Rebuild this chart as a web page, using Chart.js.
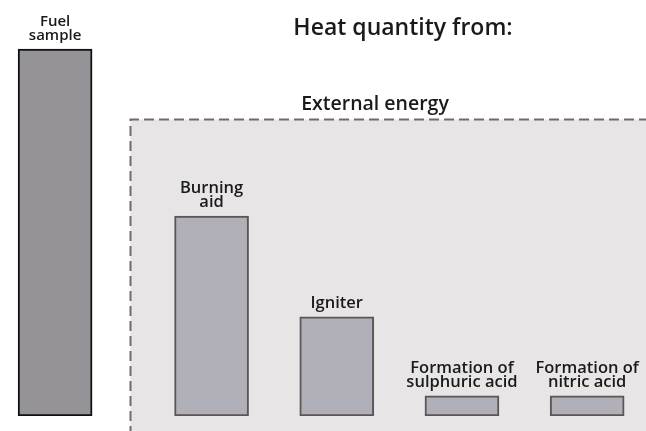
<!DOCTYPE html>
<html>
<head>
<meta charset="utf-8">
<script src="https://cdn.jsdelivr.net/npm/chart.js@4"></script>
<style>
  html, body { margin: 0; padding: 0; background: #fff; }
  #wrap { width: 646px; height: 431px; }
</style>
</head>
<body>
<div id="wrap"><canvas id="heatChart"></canvas></div>
<script>
// heat contributions (relative units)
const categories = [
  ['Fuel', 'sample'],
  ['Burning', 'aid'],
  ['Igniter'],
  ['Formation of', 'sulphuric acid'],
  ['Formation of', 'nitric acid']
];
const heatValues = [100, 54.5, 27, 5.5, 5.5];
const titleText = 'Heat quantity from:';
const groupText = 'External energy';

const FONT = '"Open Sans", "Noto Sans", sans-serif';
const firstGap = 0.25; // extra space between the fuel sample and the rest

// slot index on the x axis for each bar
const slots = categories.map((c, i) => i === 0 ? 0 : i + firstGap);

const fills = heatValues.map((v, i) => i === 0 ? '#959398' : '#b1b0b8');
const borders = heatValues.map((v, i) => i === 0 ? '#111111' : '#5e5455');

// grey dashed box behind the external energy bars + text
const boxPlugin = {
  id: 'boxPlugin',
  beforeDatasetsDraw(chart) {
    const ctx = chart.ctx;
    const x = chart.scales.x;
    const left = Math.round(x.getPixelForValue(0.6)) + 0.5;
    const top = 119.5;
    ctx.save();
    ctx.fillStyle = '#e7e5e6';
    ctx.fillRect(left, top, chart.width - left + 10, chart.height - top + 10);
    ctx.setLineDash([10, 5]);
    ctx.lineWidth = 2;
    ctx.strokeStyle = '#76696b';
    ctx.beginPath();
    ctx.moveTo(left, chart.height + 5);
    ctx.lineTo(left, top);
    ctx.lineTo(chart.width + 5, top);
    ctx.stroke();
    ctx.restore();
  },
  afterDatasetsDraw(chart) {
    const ctx = chart.ctx;
    const meta = chart.getDatasetMeta(0);
    ctx.save();
    ctx.fillStyle = '#1a1a1a';
    ctx.textAlign = 'center';
    ctx.textBaseline = 'alphabetic';
    // bar labels
    meta.data.forEach((bar, i) => {
      const lines = categories[i];
      ctx.font = (i === 0 ? '600 15px ' : '600 16.5px ') + FONT;
      lines.forEach((line, k) => {
        const y = bar.y - 9 - (lines.length - 1 - k) * 14;
        ctx.fillText(line, bar.x, y);
      });
    });
    // headings
    ctx.font = '600 23px ' + FONT;
    ctx.fillText(titleText, 403, 35);
    ctx.font = '600 19.5px ' + FONT;
    ctx.fillText(groupText, 375, 110);
    ctx.restore();
  }
};

new Chart(document.getElementById('heatChart'), {
  type: 'bar',
  data: {
    datasets: [{
      data: heatValues.map((v, i) => ({ x: slots[i], y: v })),
      backgroundColor: fills,
      borderColor: borders,
      borderWidth: 2,
      borderSkipped: false,
      barThickness: 74
    }]
  },
  options: {
    responsive: true,
    maintainAspectRatio: false,
    animation: false,
    layout: { padding: { top: 0, bottom: 15, left: 0, right: 0 } },
    plugins: { legend: { display: false }, tooltip: { enabled: false } },
    scales: {
      x: { type: 'linear', min: -0.44, max: 4.72, offset: false, display: false },
      y: { min: 0, max: 113.4, display: false }
    }
  },
  plugins: [boxPlugin]
});
</script>
</body>
</html>
